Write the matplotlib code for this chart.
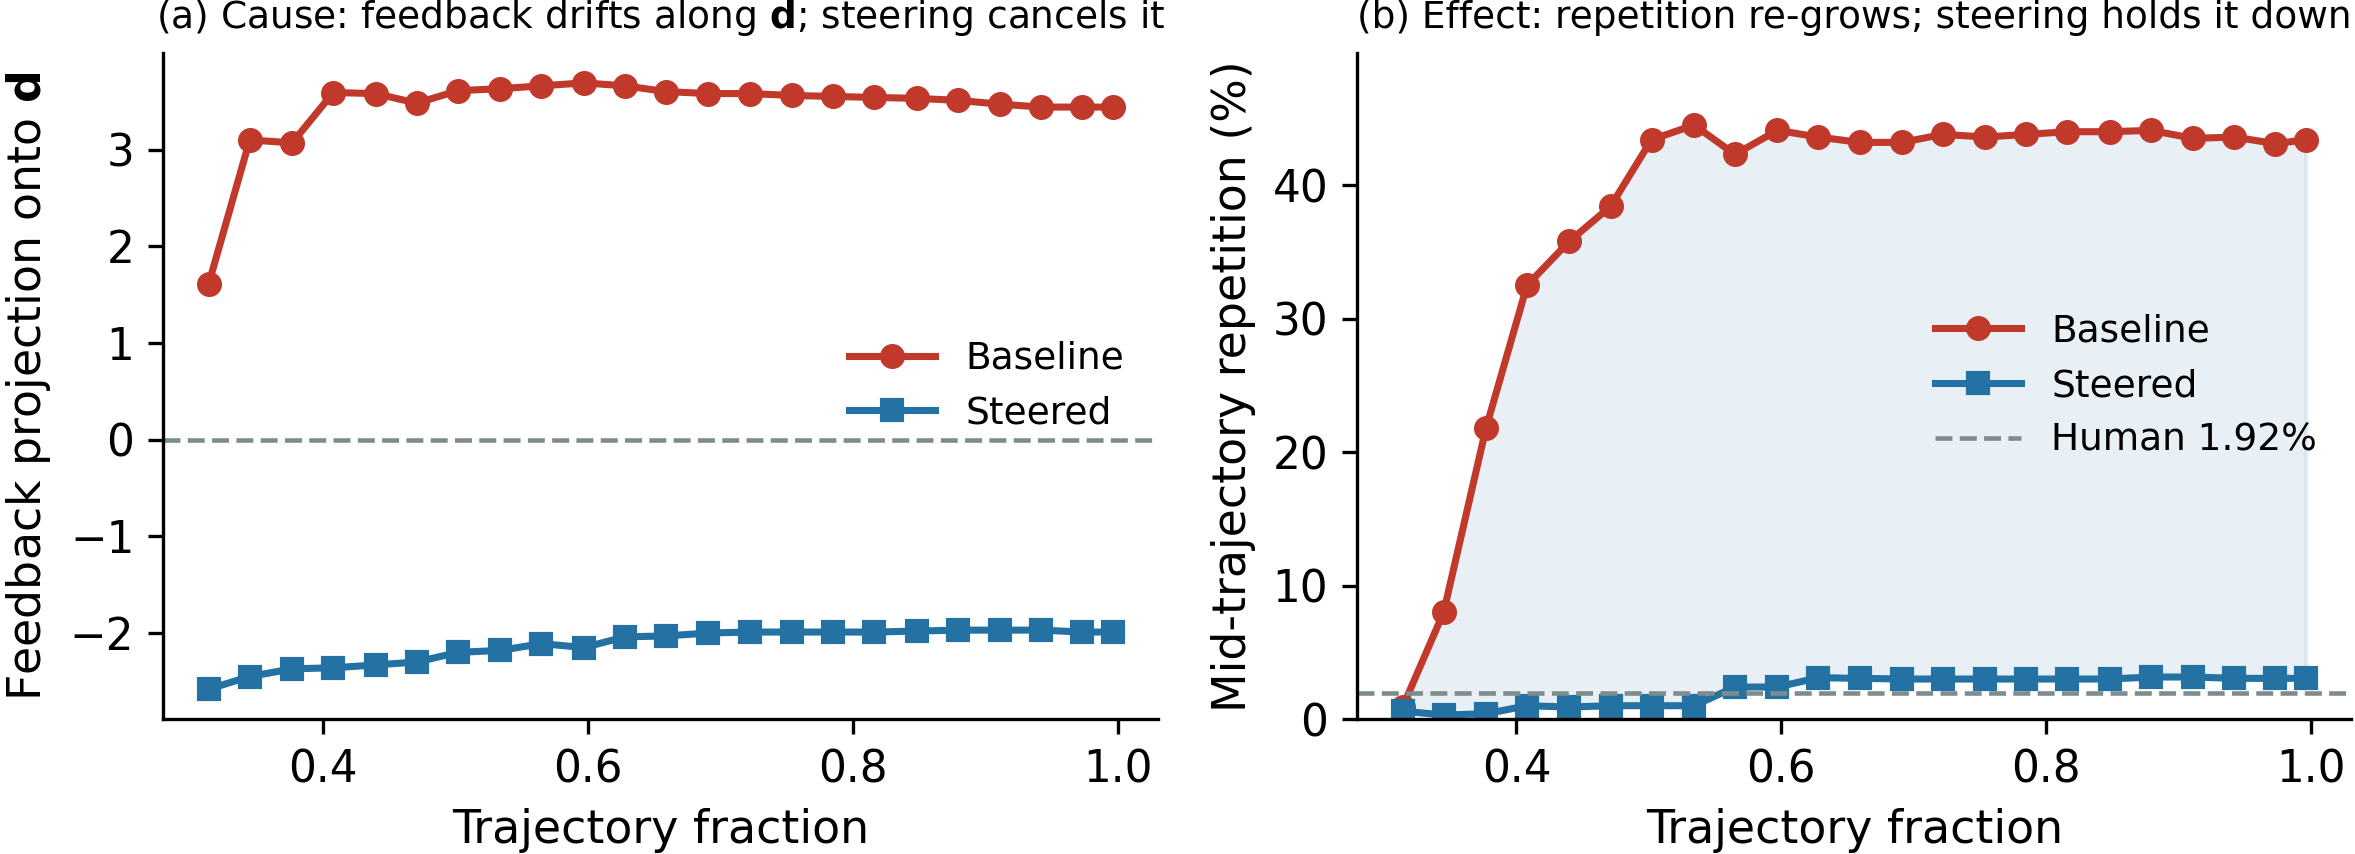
import matplotlib
matplotlib.use("Agg")
import matplotlib.pyplot as plt

# Trajectory fraction (x positions)
frac = [0.314, 0.345, 0.377, 0.408, 0.440, 0.471, 0.502, 0.534, 0.565, 0.597,
        0.628, 0.659, 0.691, 0.722, 0.754, 0.785, 0.816, 0.848, 0.879, 0.911,
        0.942, 0.973, 0.996]

# Panel (a): feedback projection onto d
proj_baseline = [1.61, 3.10, 3.07, 3.59, 3.58, 3.48, 3.61, 3.63, 3.66, 3.69,
                 3.66, 3.60, 3.58, 3.58, 3.56, 3.55, 3.54, 3.53, 3.51, 3.47,
                 3.44, 3.44, 3.44]
proj_steered = [-2.58, -2.45, -2.37, -2.36, -2.33, -2.30, -2.20, -2.18, -2.11, -2.15,
                -2.04, -2.03, -2.00, -1.99, -1.99, -1.99, -1.99, -1.98, -1.97, -1.97,
                -1.97, -1.99, -1.99]

# Panel (b): mid-trajectory repetition (%)
rep_baseline = [0.9, 8.0, 21.8, 32.5, 35.8, 38.4, 43.4, 44.5, 42.3, 44.1,
                43.6, 43.2, 43.2, 43.8, 43.6, 43.8, 44.0, 44.0, 44.1, 43.5,
                43.6, 43.1, 43.4]
rep_steered = [0.6, 0.3, 0.4, 1.0, 0.9, 1.0, 1.0, 1.0, 2.4, 2.4,
               3.1, 3.05, 3.0, 3.0, 3.0, 3.0, 3.0, 3.0, 3.15, 3.15,
               3.05, 3.05, 3.05]
human_rate = 1.92

xticks = [0.4, 0.6, 0.8, 1.0]
yticks_a = [-2, -1, 0, 1, 2, 3]
yticks_b = [0, 10, 20, 30, 40]

titles = ["(a) Cause: feedback drifts along $\\mathbf{d}$; steering cancels it",
          "(b) Effect: repetition re-grows; steering holds it down"]
ylabels = ["Feedback projection onto $\\mathbf{d}$", "Mid-trajectory repetition (%)"]
xlabel = "Trajectory fraction"

RED = "#c0392b"
BLUE = "#2471a3"
GREY = "#7f8c8d"

plt.rcParams['font.family'] = ['DejaVu Sans']
plt.rcParams['axes.linewidth'] = 0.8

fig = plt.figure(figsize=(7.85, 2.8467), dpi=300)
axa = fig.add_axes([0.0694, 0.158, 0.4223, 0.780])
axb = fig.add_axes([0.5764, 0.158, 0.4219, 0.780])

lw = 1.7
ms = 5

axa.plot(frac, proj_baseline, color=RED, marker='o', lw=lw, ms=ms, label='Baseline')
axa.plot(frac, proj_steered, color=BLUE, marker='s', lw=lw, ms=ms, label='Steered')
axa.axhline(0, color=GREY, ls='--', lw=1.1)
axa.set_ylim(-2.89, 4.0)
axa.set_yticks(yticks_a)
axa.set_title(titles[0], fontsize=9)
axa.set_ylabel(ylabels[0], fontsize=11)
axa.set_xlabel(xlabel, fontsize=11)
axa.legend(loc='center right', frameon=False, fontsize=9, handlelength=2.3)

axb.fill_between(frac, rep_steered, rep_baseline, color=BLUE, alpha=0.1)
axb.plot(frac, rep_baseline, color=RED, marker='o', lw=lw, ms=ms, label='Baseline')
axb.plot(frac, rep_steered, color=BLUE, marker='s', lw=lw, ms=ms, label='Steered')
axb.axhline(human_rate, color=GREY, ls='--', lw=1.1, label=f'Human {human_rate:.2f}%')
axb.set_ylim(0, 49.9)
axb.set_yticks(yticks_b)
axb.set_title(titles[1], fontsize=9)
axb.set_ylabel(ylabels[1], fontsize=11)
axb.set_xlabel(xlabel, fontsize=11)
axb.legend(loc='center right', frameon=False, fontsize=9, handlelength=2.3)

for ax in (axa, axb):
    ax.spines['top'].set_visible(False)
    ax.spines['right'].set_visible(False)
    ax.tick_params(labelsize=10.5)
    ax.set_xticks(xticks)

fig.savefig("out.png", dpi=300)
